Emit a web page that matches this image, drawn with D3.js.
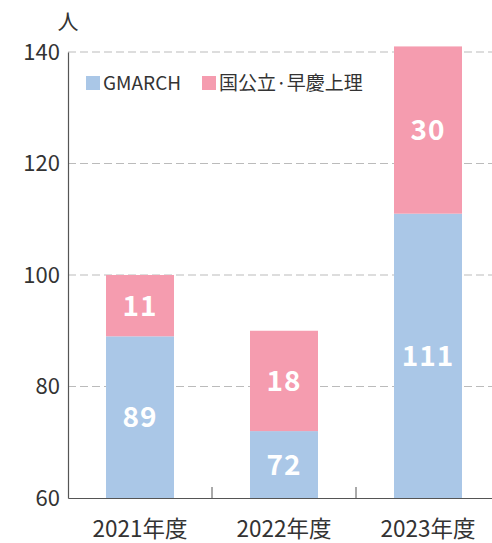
<!DOCTYPE html>
<html>
<head>
<meta charset="utf-8">
<script src="https://cdn.jsdelivr.net/npm/d3@7"></script>
<style>
  body { margin: 0; background: #fff; }
  text { font-family: "Noto Sans CJK JP", "Noto Sans", sans-serif; }
</style>
</head>
<body>
<div id="chart"></div>
<script>
// Data
var years = ["2021年度", "2022年度", "2023年度"];
var gmarch = [89, 72, 111];
var kokko = [11, 18, 30];
var seriesNames = ["GMARCH", "国公立·早慶上理"];
var seriesColors = ["#aac7e7", "#f59caf"];
var yTicks = [60, 80, 100, 120, 140];

// SVG
var width = 492, height = 543;
var margin = {top: 52, right: 0, bottom: 45, left: 68};

var svg = d3.select("#chart").append("svg")
    .attr("width", width)
    .attr("height", height);

var x = d3.scaleBand()
    .domain(years)
    .range([margin.left, margin.left + 432])
    .padding(0);

var y = d3.scaleLinear()
    .domain([60, 140])
    .range([height - margin.bottom, margin.top]);

var barW = 68;

// gridlines
svg.selectAll("line.grid")
    .data(yTicks.filter(function(d){ return d > 60; }))
    .enter().append("line")
    .attr("class", "grid")
    .attr("x1", margin.left)
    .attr("x2", width)
    .attr("y1", function(d){ return y(d); })
    .attr("y2", function(d){ return y(d); })
    .attr("stroke", "#bbbbbb")
    .attr("stroke-width", 1.2)
    .attr("stroke-dasharray", "8,4");

// stacked bars
var stacked = years.map(function(d, i){
    return {year: d, a: gmarch[i], b: kokko[i]};
});

var g = svg.selectAll("g.bar")
    .data(stacked).enter().append("g")
    .attr("class", "bar")
    .attr("transform", function(d){
        return "translate(" + (x(d.year) + x.bandwidth()/2 - barW/2) + ",0)";
    });

g.append("rect")
    .attr("y", function(d){ return y(d.a); })
    .attr("height", function(d){ return y(60) - y(d.a); })
    .attr("width", barW)
    .attr("fill", seriesColors[0]);

g.append("rect")
    .attr("y", function(d){ return y(d.a + d.b); })
    .attr("height", function(d){ return y(d.a) - y(d.a + d.b); })
    .attr("width", barW)
    .attr("fill", seriesColors[1]);

g.append("text")
    .attr("x", barW/2)
    .attr("y", function(d){ return (y(60) + y(d.a))/2; })
    .attr("dy", "0.36em")
    .attr("text-anchor", "middle")
    .attr("fill", "#fff")
    .attr("font-size", 28)
    .attr("font-weight", "bold")
    .attr("letter-spacing", 1)
    .text(function(d){ return d.a; });

g.append("text")
    .attr("x", barW/2)
    .attr("y", function(d){ return (y(d.a) + y(d.a + d.b))/2; })
    .attr("dy", "0.36em")
    .attr("text-anchor", "middle")
    .attr("fill", "#fff")
    .attr("font-size", 28)
    .attr("font-weight", "bold")
    .attr("letter-spacing", 1)
    .text(function(d){ return d.b; });

// y axis
var axisY = d3.axisLeft(y).tickValues(yTicks).tickSize(0).tickPadding(8);
var gy = svg.append("g")
    .attr("transform", "translate(" + margin.left + ",0)")
    .call(axisY);
gy.select(".domain").attr("stroke", "#555").attr("stroke-width", 1.2);
gy.selectAll("text").attr("font-size", 22).attr("fill", "#333")
    .style("font-family", "'Noto Sans CJK JP', sans-serif");

// x axis
var axisX = d3.axisBottom(x).tickSize(0);
var gx = svg.append("g")
    .attr("transform", "translate(0," + y(60) + ")")
    .call(axisX);
gx.select(".domain").attr("stroke", "#555").attr("stroke-width", 1.2);
gx.selectAll("text").attr("font-size", 22.5).attr("fill", "#333")
    .attr("y", 31).attr("dy", "0.36em")
    .style("font-family", "'Noto Sans CJK JP', sans-serif");

// separators between categories
gx.selectAll("line.sep")
    .data(years.slice(1))
    .enter().append("line")
    .attr("class", "sep")
    .attr("x1", function(d){ return x(d); })
    .attr("x2", function(d){ return x(d); })
    .attr("y1", -11)
    .attr("y2", 0)
    .attr("stroke", "#555")
    .attr("stroke-width", 1);

// unit
svg.append("text")
    .attr("x", 68)
    .attr("y", 21)
    .attr("dy", "0.36em")
    .attr("text-anchor", "middle")
    .attr("font-size", 21)
    .attr("fill", "#333")
    .text("人");

// legend
var legendX = [86, 202];
var leg = svg.selectAll("g.legend")
    .data(seriesNames).enter().append("g")
    .attr("class", "legend")
    .attr("transform", function(d, i){ return "translate(" + legendX[i] + ",76)"; });

leg.append("rect")
    .attr("width", 14)
    .attr("height", 14)
    .attr("fill", function(d, i){ return seriesColors[i]; });

leg.append("text")
    .attr("x", 17)
    .attr("y", 7)
    .attr("dy", "0.36em")
    .attr("font-size", 19)
    .attr("fill", "#333")
    .text(function(d){ return d; });
</script>
</body>
</html>
